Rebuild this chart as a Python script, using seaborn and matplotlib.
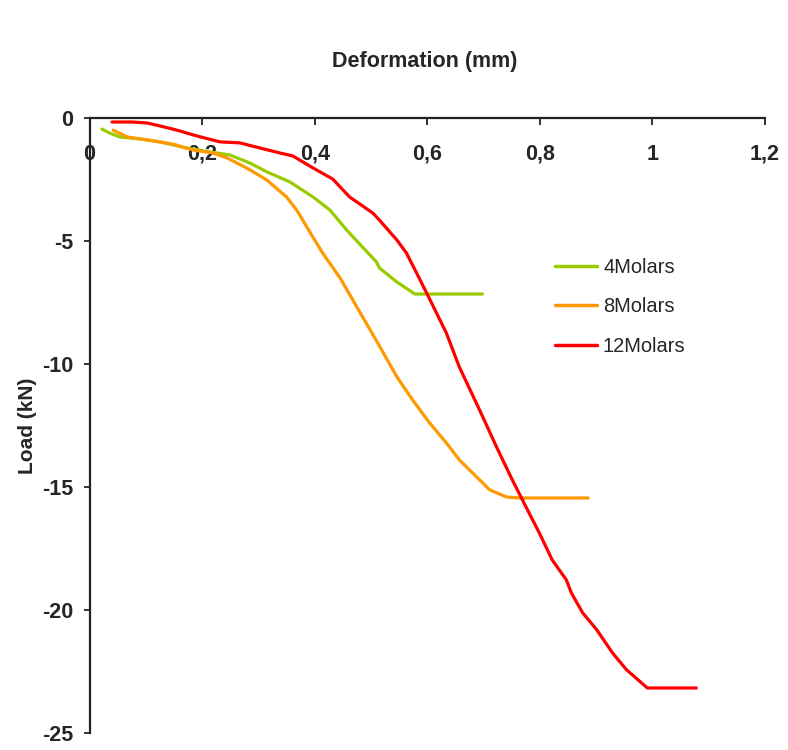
import matplotlib
matplotlib.use("Agg")
import matplotlib.pyplot as plt
from matplotlib import font_manager
import seaborn as sns
import pandas as pd

# ---- data ----
x_4m = [0.022, 0.036, 0.054, 0.090, 0.125, 0.173, 0.214, 0.249, 0.285, 0.315, 0.356,
        0.397, 0.427, 0.457, 0.485, 0.510, 0.515, 0.546, 0.578, 0.698]
y_4m = [-0.44, -0.60, -0.76, -0.84, -0.96, -1.21, -1.37, -1.49, -1.82, -2.18, -2.59,
        -3.20, -3.73, -4.55, -5.24, -5.85, -6.09, -6.66, -7.15, -7.15]

x_8m = [0.042, 0.067, 0.102, 0.148, 0.184, 0.219, 0.244, 0.279, 0.315, 0.350, 0.368,
        0.386, 0.414, 0.445, 0.475, 0.516, 0.546, 0.574, 0.604, 0.634, 0.657, 0.693,
        0.711, 0.741, 0.764, 0.886]
y_8m = [-0.48, -0.76, -0.88, -1.05, -1.29, -1.41, -1.61, -2.02, -2.51, -3.20, -3.73,
        -4.42, -5.48, -6.49, -7.68, -9.30, -10.52, -11.46, -12.39, -13.21, -13.90, -14.71,
        -15.12, -15.41, -15.45, -15.45]

x_12m = [0.040, 0.075, 0.102, 0.125, 0.155, 0.191, 0.232, 0.267, 0.303, 0.338, 0.361,
         0.397, 0.432, 0.462, 0.503, 0.515, 0.546, 0.563, 0.581, 0.599, 0.634, 0.657,
         0.693, 0.723, 0.751, 0.778, 0.799, 0.822, 0.847, 0.856, 0.876, 0.901, 0.929,
         0.954, 0.991, 1.078]
y_12m = [-0.15, -0.15, -0.19, -0.31, -0.48, -0.72, -0.96, -1.00, -1.21, -1.41, -1.53,
         -2.02, -2.47, -3.20, -3.85, -4.14, -4.95, -5.48, -6.29, -7.11, -8.74, -10.12,
         -11.87, -13.37, -14.71, -15.93, -16.87, -17.97, -18.78, -19.31, -20.12, -20.81, -21.75,
         -22.44, -23.18, -23.18]

series_names = ["4Molars", "8Molars", "12Molars"]
x_ticks = [0, 0.2, 0.4, 0.6, 0.8, 1.0, 1.2]
x_tick_labels = ["0", "0,2", "0,4", "0,6", "0,8", "1", "1,2"]
y_ticks = [0, -5, -10, -15, -20, -25]
y_tick_labels = ["0", "-5", "-10", "-15", "-20", "-25"]

colors = {"4Molars": "#99CC00", "8Molars": "#FF9900", "12Molars": "#FF0000"}

frames = []
for name, xs, ys in zip(series_names, [x_4m, x_8m, x_12m], [y_4m, y_8m, y_12m]):
    frames.append(pd.DataFrame({"x": xs, "y": ys, "series": name}))
df = pd.concat(frames, ignore_index=True)

sns.set_style("white")
available = {f.name for f in font_manager.fontManager.ttflist}
narrow = "Liberation Sans Narrow" if "Liberation Sans Narrow" in available else "Liberation Sans"
plt.rcParams["font.family"] = ["Liberation Sans", "DejaVu Sans"]

fig = plt.figure(figsize=(7.88, 7.5), dpi=100)
ax = fig.add_axes([89.5 / 788, 1 - 732.7 / 750, (765 - 89.5) / 788, (732.7 - 118.3) / 750])

sns.lineplot(data=df, x="x", y="y", hue="series", hue_order=series_names,
             palette=colors, sort=False, estimator=None, units="series",
             linewidth=2.3, ax=ax, legend=True)

ax.set_xlim(0, 1.2)
ax.set_ylim(-25, 0)
for s in ["right", "bottom"]:
    ax.spines[s].set_visible(False)
for s in ["left", "top"]:
    ax.spines[s].set_color("#222222")
    ax.spines[s].set_linewidth(1.6)

ax.xaxis.tick_top()
ax.set_xticks(x_ticks)
ax.set_xticklabels(x_tick_labels, fontfamily=narrow, fontweight="bold", fontsize=15.5)
ax.tick_params(axis="x", direction="in", length=5, width=1.3, color="#222222",
               top=True, bottom=False, labeltop=True, labelbottom=False, pad=-18.5)
for lab in ax.get_xticklabels():
    lab.set_va("top")

ax.set_yticks(y_ticks)
ax.set_yticklabels(y_tick_labels, fontfamily=narrow, fontweight="bold", fontsize=15.5)
ax.tick_params(axis="y", direction="out", length=4.5, width=1.3, color="#222222",
               left=True, pad=7)

ax.set_xlabel("")
ax.set_ylabel("Load (kN)", fontfamily=narrow, fontweight="bold", fontsize=15)
ax.yaxis.set_label_coords((37 - 89.5) / 675.5, 0.5)
fig.text(425 / 788, 1 - 62 / 750, "Deformation (mm)", ha="center", va="center",
         fontfamily=narrow, fontweight="bold", fontsize=15.5)

leg = ax.legend(loc="upper left", bbox_to_anchor=(555 / 788, 1 - 258 / 750),
                bbox_transform=fig.transFigure, frameon=False, fontsize=14.4,
                handlelength=2.1, handletextpad=0.3, labelspacing=1.02,
                borderpad=0, borderaxespad=0)
for line in leg.get_lines():
    line.set_linewidth(2.5)

fig.savefig("out.png", dpi=100)
